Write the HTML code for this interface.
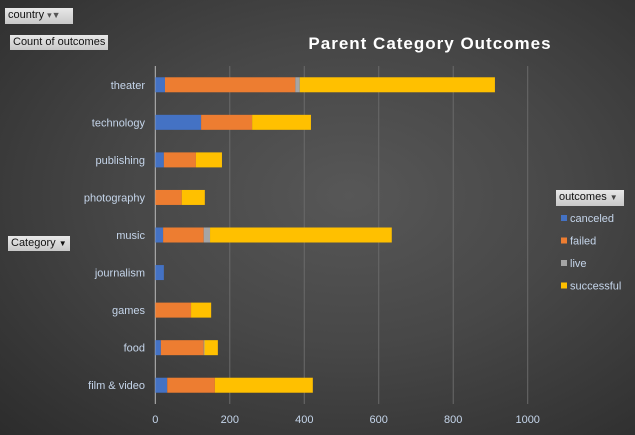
<!DOCTYPE html>
<html><head><meta charset="utf-8"><style>
body{margin:0;width:635px;height:435px;overflow:hidden;font-family:"Liberation Sans",sans-serif}
#bg{position:absolute;left:0;top:0;width:635px;height:435px;background:radial-gradient(ellipse at 55% 45%,#575757 0%,#474747 45%,#2c2c2c 100%)}
.btn{position:absolute;background:linear-gradient(#e8e8e8,#c8c8c8);color:#111;font-size:11px;line-height:15px;padding:0 3px;white-space:nowrap}
</style></head><body>
<div id="bg"></div>
<div class="btn" style="left:5px;top:8px;height:16px;width:62px">country <span style="font-size:9px;color:#555">▾▼</span></div>
<div class="btn" style="left:10px;top:35px;height:15px">Count of outcomes</div>
<div class="btn" style="left:8px;top:236px;height:15px">Category <span style="font-size:8px">▼</span></div>
<div class="btn" style="left:556px;top:190px;height:16px;width:62px">outcomes <span style="font-size:8px;color:#444">▼</span></div>
<svg id="c" width="635" height="435" style="position:absolute;left:0;top:0"></svg>
<script>
const categories=["theater","technology","publishing","photography","music","journalism","games","food","film & video"];
const canceled=[26,123,23,0,21,23,0,15,32];
const failed=[350,137,86,71,109,0,96,115,128];
const live=[12,0,0,0,17,0,0,2,0];
const successful=[524,158,70,62,488,0,54,36,263];
const ticks=[0,200,400,600,800,1000];
const series=[["canceled",canceled,"#4472c4"],["failed",failed,"#ed7d31"],["live",live,"#a5a5a5"],["successful",successful,"#ffc000"]];
const svg=document.getElementById('c');const NS="http://www.w3.org/2000/svg";
function mk(t,a,p){const e=document.createElementNS(NS,t);for(const k in a)e.setAttribute(k,a[k]);(p||svg).appendChild(e);return e;}
const x0=155.3,x1=527.7,plotTop=66,plotBot=404;
const X=v=>x0+(v/1000)*(x1-x0);
const band=(plotBot-plotTop)/categories.length;
const Y=i=>plotTop+band*i+band/2;
ticks.forEach(t=>{
 if(t>0){const g=mk('line',{x1:X(t),x2:X(t),y1:plotTop,y2:plotBot,stroke:'#6a6a6a','stroke-width':1});
 
 }
 const l=mk('text',{x:X(t),y:423,'text-anchor':'middle','font-size':11,fill:'#c5d5ea'});l.textContent=t;
 
 
});
const ax=mk('line',{x1:x0,x2:x0,y1:plotTop,y2:plotBot,stroke:'#bbb','stroke-width':1});


categories.forEach((c,i)=>{
 const l=mk('text',{x:145,y:Y(i)+4,'text-anchor':'end','font-size':11,fill:'#c5d5ea'});l.textContent=c;
 
 
 let acc=0;
 series.forEach(([n,arr,col])=>{
  const v=arr[i];if(v<=0)return;
  const r=mk('rect',{x:X(acc),y:Y(i)-7.5,width:X(acc+v)-X(acc),height:15,fill:col});
  
  
  acc+=v;
 });
});
const t=mk('text',{x:430,y:49,'text-anchor':'middle','font-size':17,'font-weight':'bold',fill:'#fff','letter-spacing':'1'});
t.textContent="Parent Category Outcomes";


series.forEach(([n,arr,col],k)=>{
 const y=219+k*22.5;
 const s=mk('rect',{x:561,y:y-4,width:6,height:6,fill:col});
 
 
 const l=mk('text',{x:570,y:y+3,'font-size':11,fill:'#c5d5ea'});l.textContent=n;
 
 
});
</script>
</body></html>
